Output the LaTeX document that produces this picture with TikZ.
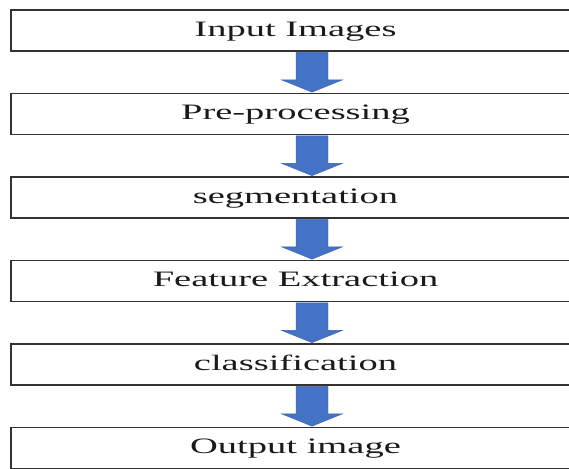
\documentclass[tikz,border=0pt]{standalone}
\usepackage{fontspec}
\usepackage{graphicx}
\setmainfont{Liberation Serif}
\usetikzlibrary{calc}
\definecolor{arrowblue}{HTML}{4472C4}
\definecolor{arrowedge}{HTML}{3A62AE}
\definecolor{boxline}{HTML}{333333}
\definecolor{textcol}{HTML}{1A1A1A}
\newcommand{\wide}[1]{\scalebox{1.75}[1]{#1}}
\tikzset{
  stagebox/.style={draw=boxline, line width=1.3pt, fill=white, rectangle,
    minimum width=569pt, minimum height=41pt, inner sep=0pt,
    text height=17pt, text depth=5.4pt, text=textcol,
    font=\fontsize{22}{24}\selectfont},
  flowarrow/.style={fill=arrowblue, draw=arrowedge, line width=0.4pt}
}
\begin{document}
\begin{tikzpicture}[x=1pt, y=-1pt]
\useasboundingbox (0,0) rectangle (569,468);
\clip (0,0) rectangle (569,468);
\fill[white] (0,0) rectangle (569,468);
\node[stagebox] (b1) at (295.5,30.5) {\wide{Input Images}};
\node[stagebox] (b2) at (295.5,114) {\wide{Pre-processing}};
\node[stagebox] (b3) at (295.5,197.5) {\wide{segmentation}};
\node[stagebox] (b4) at (295.5,281) {\wide{Feature Extraction}};
\node[stagebox] (b5) at (295.5,364.5) {\wide{classification}};
\node[stagebox] (b6) at (295.5,448) {\wide{Output image}};
\foreach \a/\b in {b1/b2,b2/b3,b3/b4,b4/b5,b5/b6}{
  \coordinate (s) at ($(\a.south)+(16.5,0)$);
  \coordinate (t) at ($(\b.north)+(16.5,0)$);
  \filldraw[flowarrow] ($(s)+(-16,0.7)$) -- ($(s)+(16,0.7)$) -- ($(t)+(16,-13)$)
    -- ($(t)+(30.5,-13)$) -- ($(t)+(0,-0.7)$) -- ($(t)+(-30.5,-13)$)
    -- ($(t)+(-16,-13)$) -- cycle;
}
\end{tikzpicture}
\end{document}
